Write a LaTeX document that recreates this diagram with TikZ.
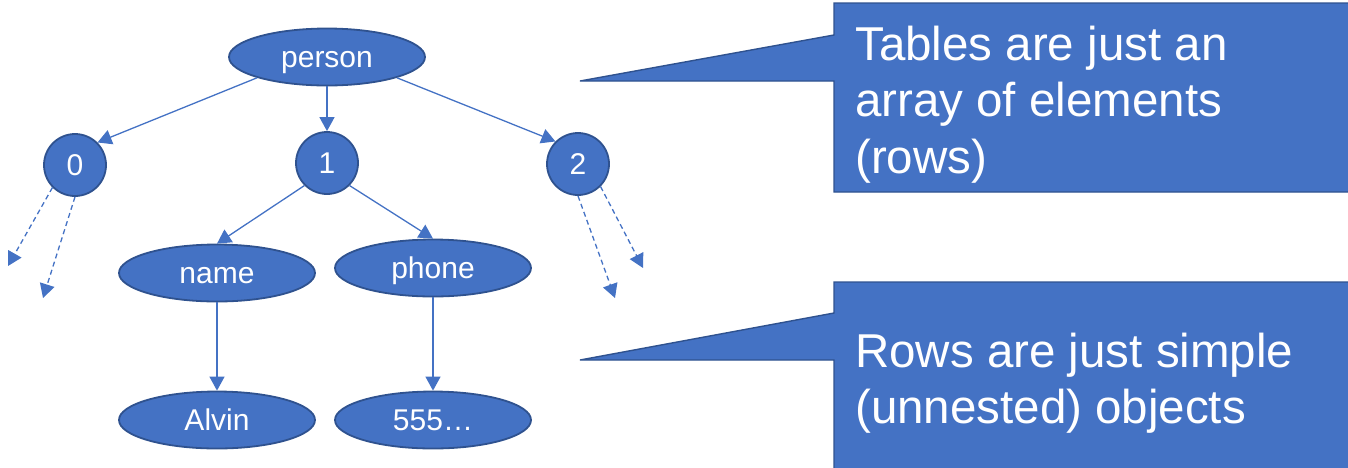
\documentclass[tikz,border=0pt]{standalone}
\usepackage{fontspec}
\setmainfont{Liberation Sans}
\usetikzlibrary{shapes.geometric,arrows.meta}
\definecolor{nodefill}{HTML}{4472C4}
\definecolor{nodeline}{HTML}{2F528F}
\tikzset{
  treetext/.style={text=white, font=\fontsize{30}{36}\selectfont,
    text height=26pt, text depth=6pt},
  treeoval/.style={ellipse, draw=nodeline, line width=1.8pt, fill=nodefill,
    minimum width=196pt, minimum height=57pt, inner sep=0pt, treetext},
  treecirc/.style={circle, draw=nodeline, line width=1.8pt, fill=nodefill,
    minimum size=62pt, inner sep=0pt, treetext},
  link/.style={draw=nodefill, line width=1.3pt,
    -{Triangle[length=14pt,width=15pt]}},
  dashlink/.style={link, dash pattern=on 5pt off 3.5pt},
  callout/.style={fill=nodefill, draw=nodeline, line width=1.4pt, line join=miter},
  callouttext/.style={anchor=west, inner sep=0pt, align=left, text=white,
    font=\fontsize{47.5}{56.5}\selectfont},
}
\begin{document}
\begin{tikzpicture}[x=1pt, y=-1pt]
\useasboundingbox (0,0) rectangle (1348,467);
\clip (0,0) rectangle (1348,467);

% tree
\node[treeoval] (person) at (327,57) {person};
\node[treecirc] (n0) at (75,165) {0};
\node[treecirc] (n1) at (327,163) {1};
\node[treecirc] (n2) at (578,164) {2};
\node[treeoval] (name) at (217,273) {name};
\node[treeoval] (phone) at (433,268) {phone};
\node[treeoval] (alvin) at (217,420) {Alvin};
\node[treeoval] (num) at (433,420) {555…};

\draw[link] (person.south west) -- (n0.north east);
\draw[link] (person.south) -- (n1.north);
\draw[link] (person.south east) -- (n2.north west);
\draw[link] (n1.south west) -- (name.north);
\draw[link] (n1.south east) -- (phone.north);
\draw[link] (name.south) -- (alvin.north);
\draw[link] (phone.south) -- (num.north);

% elided children
\coordinate (a0) at (8,266);
\coordinate (b0) at (43,298);
\coordinate (a2) at (615,298);
\coordinate (b2) at (643,268);
\draw[dashlink] (n0.south west) -- (a0);
\draw[dashlink] (n0.south) -- (b0);
\draw[dashlink] (n2.south) -- (a2);
\draw[dashlink] (n2.south east) -- (b2);

% callouts
\coordinate (tipA) at (580,81);
\coordinate (tipB) at (580,360);
\draw[callout] (1360,3) -- (834,3) -- (834,35) -- (tipA) -- (834,81)
  -- (834,192) -- (1360,192);
\draw[callout] (1360,282) -- (834,282) -- (834,313) -- (tipB) -- (834,360)
  -- (834,480) -- (1360,480);
\node[callouttext] (notetables) at (855,104.4)
  {Tables are just an\\array of elements\\(rows)};
\node[callouttext] (noterows) at (855,383)
  {Rows are just simple\\(unnested) objects};
\end{tikzpicture}
\end{document}
